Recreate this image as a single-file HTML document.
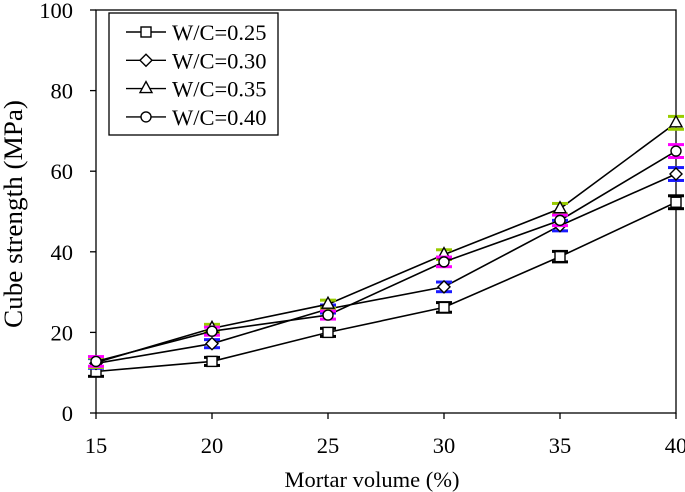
<!DOCTYPE html>
<html><head><meta charset="utf-8"><style>
html,body{margin:0;padding:0;background:#fff;}
svg{display:block;font-family:"Liberation Serif",serif;}
</style></head><body>
<svg id="chart" width="685" height="492">
<g id="frame"></g><g id="series"></g>
<text x="372" y="487" font-size="22.5" text-anchor="middle">Mortar volume (%)</text>
<text transform="translate(22,214) rotate(-90)" font-size="26" text-anchor="middle" textLength="228" lengthAdjust="spacingAndGlyphs">Cube strength (MPa)</text>
<g>
<rect x="109" y="13" width="169" height="122" fill="#fff" stroke="#000" stroke-width="1.3"/>
<g id="legend"></g>
</g>
</svg>
<script>
const categories=[15,20,25,30,35,40];
const seriesNames=["W/C=0.25","W/C=0.30","W/C=0.35","W/C=0.40"];
const s025=[10.3,12.8,20,26.2,38.8,52.3];
const s030=[12.3,17.2,25.8,31.3,46.5,59.3];
const s035=[12.5,21,27,39.3,50.7,72];
const s040=[12.8,20.3,24.3,37.5,47.8,65];
const errs=[1.2,1.0,1.0,1.2,1.3,1.6];
const yTicks=[0,20,40,60,80,100];
const xTicks=[15,20,25,30,35,40];
const NS="http://www.w3.org/2000/svg";
const x0=96,x1=676,yb=413,yt=10;
const X=v=>x0+(v-15)/25*(x1-x0);
const Y=v=>yb-v/100*(yb-yt);
function mk(t,a,p){const e=document.createElementNS(NS,t);for(const k in a)e.setAttribute(k,a[k]);p.appendChild(e);return e;}
const fr=document.getElementById('frame');
const ax=mk('rect',{x:x0,y:yt,width:x1-x0,height:yb-yt,fill:'none',stroke:'#000','stroke-width':1.3},fr);


yTicks.forEach(v=>{const l=mk('line',{x1:x0-6,x2:x0,y1:Y(v),y2:Y(v),stroke:'#000','stroke-width':1.3},fr);


const t=mk('text',{x:x0-23,y:Y(v)+8,'font-size':22.5,'text-anchor':'end'},fr);t.textContent=v;

});
xTicks.forEach(v=>{const l=mk('line',{x1:X(v),x2:X(v),y1:yb,y2:yb+6,stroke:'#000','stroke-width':1.3},fr);


const t=mk('text',{x:X(v),y:yb+40,'font-size':22.5,'text-anchor':'middle'},fr);t.textContent=v;

});
const all=[s025,s030,s035,s040];
const colors=['#000','#1a1aff','#99cc00','#ff00ff'];
const shapes=['square','diamond','triangle','circle'];
function marker(sh,cx,cy,p){let e;
if(sh==='square')e=mk('rect',{x:cx-5,y:cy-5,width:10,height:10},p);
else if(sh==='diamond')e=mk('polygon',{points:`${cx},${cy-6} ${cx+6},${cy} ${cx},${cy+6} ${cx-6},${cy}`},p);
else if(sh==='triangle')e=mk('polygon',{points:`${cx},${cy-7} ${cx+6},${cy+4} ${cx-6},${cy+4}`},p);
else e=mk('circle',{cx:cx,cy:cy,r:5},p);
e.setAttribute('fill','#fff');e.setAttribute('stroke','#000');e.setAttribute('stroke-width','1.4');return e;}
const sg=document.getElementById('series');
all.forEach((d,i)=>{const g=mk('g',{},sg);


const ln=mk('polyline',{points:d.map((v,j)=>X(categories[j])+','+Y(v)).join(' '),fill:'none',stroke:'#000','stroke-width':1.6},g);


d.forEach((v,j)=>{const cx=X(categories[j]);
[v+errs[j],v-errs[j]].forEach(e=>{const c=mk('line',{x1:cx-8,x2:cx+8,y1:Y(e),y2:Y(e),stroke:colors[i],'stroke-width':3},g);

});
const eb=mk('line',{x1:cx,x2:cx,y1:Y(v+errs[j]),y2:Y(v-errs[j]),stroke:colors[i],'stroke-width':1.5},g);


const m=marker(shapes[i],cx,Y(v),g);

});});
const lg=document.getElementById('legend');
seriesNames.forEach((n,i)=>{const y=32+i*28.3;
const l=mk('line',{x1:126,x2:166,y1:y,y2:y,stroke:'#000','stroke-width':1.4},lg);


const m=marker(shapes[i],146,y,lg);


const t=mk('text',{x:172,y:y+8,'font-size':22.5},lg);t.textContent=n;

});
</script>
</body></html>
